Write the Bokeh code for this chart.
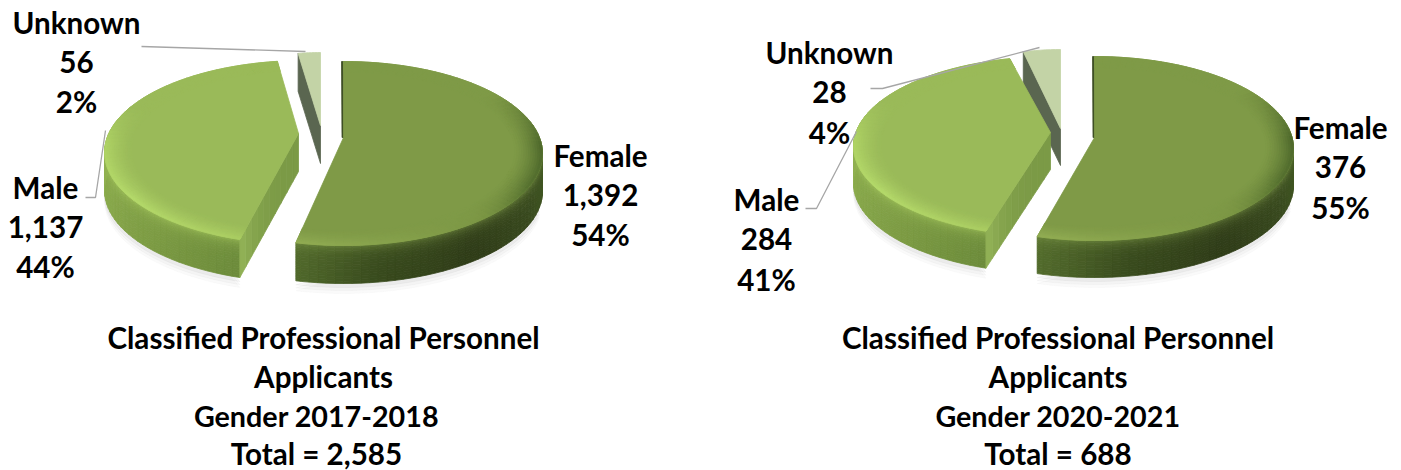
import numpy as np
from bokeh.core.properties import value
from bokeh.embed import file_html
from bokeh.layouts import row
from bokeh.models import ColumnDataSource, Range1d
from bokeh.plotting import figure
from bokeh.resources import INLINE

categories = ["Female", "Male", "Unknown"]
counts_2017 = [1392, 1137, 56]
counts_2020 = [376, 284, 28]
pct_2017 = [54, 44, 2]
pct_2020 = [55, 41, 4]
title_2017 = ["Classified Professional Personnel", "Applicants", "Gender 2017-2018"]
title_2020 = ["Classified Professional Personnel", "Applicants", "Gender 2020-2021"]

FONT = "Lato"
FS = "29.6px"
FS_GENDER = "28.7px"


def hexrgb(h):
    return np.array([int(h[i:i + 2], 16) for i in (1, 3, 5)], float)


def tohex(c):
    c = np.clip(np.round(c), 0, 255).astype(int)
    return "#%02x%02x%02x" % tuple(c)


def ramp(table, t):
    ts = [a for a, _ in table]
    cs = np.array([hexrgb(b) for _, b in table])
    return np.array([np.interp(t, ts, cs[:, i]) for i in range(3)])


FEMALE_WALL = [(60, "#4a6228"), (90, "#435a25"), (112, "#38491e"), (140, "#2f3c18"), (170, "#384a1d"), (200, "#56702e")]
MALE_WALL = [(190, "#678638"), (225, "#7a9942"), (262, "#8aaa4c"), (290, "#98b956"), (320, "#98b956")]
FEMALE_EDGE = [(0, "#7f9a47"), (50, "#7f9a47"), (85, "#4f692c"), (110, "#55702f"), (135, "#7b9644"), (200, "#93ae54")]
MALE_EDGE = [(190, "#a8ca60"), (240, "#b4d96a"), (275, "#aed264"), (300, "#9aba59"), (360, "#9aba59")]
FEMALE_TOP = "#7f9a47"
MALE_TOP = "#9aba59"
UNK_TOP = "#c3d3a6"
UNK_DARK = "#5a6650"
MALE_CUT_A = "#7b9a46"
MALE_CUT_B = "#90b055"
GRID = "#a6a6a6"


def chart(counts, pcts, title_lines, x0, x1, g):
    p = figure(width=x1 - x0, height=470, x_range=Range1d(x0, x1), y_range=Range1d(470, 0),
               output_backend="svg", toolbar_location=None, min_border=0)
    p.axis.visible = False
    p.grid.visible = False
    p.outline_line_color = None
    p.background_fill_color = "#ffffff"
    p.border_fill_color = "#ffffff"

    total = sum(counts)
    f_end = 360 * counts[0] / total
    m_end = f_end + 360 * counts[1] / total

    xs, ys, cols, alphas = [], [], [], []

    def add(x, y, c, a=1.0):
        xs.append(list(x))
        ys.append(list(y))
        cols.append(c)
        alphas.append(a)

    def rim(s, th):
        r = np.radians(th)
        return s["cx"] + s["rx"] * np.sin(r), s["cy"] - s["ry"] * np.cos(r)

    def pt(s, th, f):
        x, y = rim(s, th)
        return s["ax"] + f * (x - s["ax"]), s["ay"] + f * (y - s["ay"])

    def arc(s, t0, t1, n=60):
        return rim(s, np.linspace(t0, t1, n))

    def wall(s, t0, t1, table, hi):
        d = g["depth"]
        vs = np.linspace(0, 1, 17)
        step = 2.5
        for a in np.arange(t0, t1, step):
            b = min(a + step, t1)
            xa, ya = rim(s, a)
            xb, yb = rim(s, b)
            c = ramp(table, (a + b) / 2)
            for v0, v1 in zip(vs[:-1], vs[1:]):
                w = 0.6 * np.exp(-((v0 + v1) / 2) / 0.16)
                col = tohex(c + w * (hexrgb(hi) - c))
                add([xa, xb, xb, xa], [ya + v0 * d, yb + v0 * d, yb + v1 * d, ya + v1 * d], col)

    def surface(s, t0, t1, top, table, f_in=.86):
        x, y = arc(s, t0, t1)
        add([s["ax"], *x], [s["ay"], *y], top)
        base = hexrgb(top)
        n = 12
        fs = np.linspace(f_in, 1, n + 1)
        for a in np.arange(t0, t1, 2.5):
            b = min(a + 2.5, t1)
            c = ramp(table, (a + b) / 2)
            for i in range(n):
                w = ((i + 1) / n) ** 1.5
                xa0, ya0 = pt(s, a, fs[i])
                xb0, yb0 = pt(s, b, fs[i])
                xa1, ya1 = pt(s, a, fs[i + 1])
                xb1, yb1 = pt(s, b, fs[i + 1])
                add([xa0, xb0, xb1, xa1], [ya0, yb0, yb1, ya1], tohex(base + w * (c - base)))

    F, M, U = g["female"], g["male"], g["unknown"]
    d = g["depth"]

    # soft shadow
    for off, a in [(10, .04), (7, .05), (4, .07)]:
        x, y = arc(F, 100, f_end)
        add(x, y + d + off, "#808080", a)
        x, y = arc(M, f_end + g["m0"], 300)
        add(x, y + d + off, "#808080", a)

    # unknown slice
    x, y = arc(U, m_end + g["m1"], 360, 16)
    add([x[0], x[0], U["ax"], U["ax"]], [y[0], y[0] + d, U["ay"] + d, U["ay"]], UNK_DARK)
    add([U["ax"], *x], [U["ay"], *y], UNK_TOP)

    # male slice
    m0, m1 = f_end + g["m0"], m_end + g["m1"]
    wall(M, m0, 300, MALE_WALL, "#a9cc5f")
    sx, sy = rim(M, m0)
    for i in range(10):
        v0, v1 = i / 10, (i + 1) / 10
        top_x = [M["ax"] + v0 * (sx - M["ax"]), M["ax"] + v1 * (sx - M["ax"])]
        top_y = [M["ay"] + v0 * (sy - M["ay"]), M["ay"] + v1 * (sy - M["ay"])]
        c = tohex(hexrgb(MALE_CUT_A) + ((i / 9) ** 3) * (hexrgb(MALE_CUT_B) - hexrgb(MALE_CUT_A)))
        add([top_x[0], top_x[1], top_x[1], top_x[0]], [top_y[0], top_y[1], top_y[1] + d, top_y[0] + d], c)
    surface(M, m0, m1, MALE_TOP, MALE_EDGE)

    # female slice
    wall(F, 70, f_end, FEMALE_WALL, "#7a9644")
    fx, fy = rim(F, 0)
    add([fx - 2, fx, F["ax"] + .5, F["ax"] - 1.5], [fy, fy, F["ay"], F["ay"]], "#3f4f26")
    surface(F, 0, f_end, FEMALE_TOP, FEMALE_EDGE)

    src = ColumnDataSource(dict(xs=xs, ys=ys, c=cols, a=alphas))
    p.patches("xs", "ys", source=src, fill_color="c", line_color="c", fill_alpha="a",
              line_alpha="a", line_width=0.8)

    for lx, ly in g["leaders"]:
        p.line(lx, ly, line_color=GRID, line_width=1.3)

    # data labels and titles
    tx, ty, tt, fs = [], [], [], []
    for i, name in enumerate(categories):
        lx, ly = g["labels"][i]
        for k, s in enumerate([name, f"{counts[i]:,}", f"{pcts[i]}%"]):
            tx.append(lx)
            ty.append(ly + k * g["step"])
            tt.append(s)
            fs.append(FS)
    for k, s in enumerate(title_lines + [f"Total = {total:,}"]):
        tx.append(g["title_x"][k])
        ty.append(g["title_y"][k])
        tt.append(s)
        fs.append(FS_GENDER if k == 2 else FS)
    tsrc = ColumnDataSource(dict(x=tx, y=ty, t=tt, fs=fs))
    p.text("x", "y", text="t", source=tsrc, text_font=value(FONT), text_font_style="bold",
           text_font_size="fs", text_align="center", text_baseline="middle", text_color="#000000")
    return p


g1 = dict(
    female=dict(cx=343, cy=153, rx=199, ry=92, ax=343, ay=137),
    male=dict(cx=304, cy=152, rx=200, ry=92, ax=298, ay=133),
    unknown=dict(cx=320, cy=144, rx=165, ry=92, ax=320, ay=125),
    depth=38, m0=5, m1=0,
    leaders=[([141, 305], [46, 51]), ([85, 95, 105], [197, 197, 130])],
    labels=[(600, 155), (45, 187), (76, 22)], step=39.3,
    title_x=[323, 323, 316, 316], title_y=[337, 376, 415, 453],
)
g2 = dict(
    female=dict(cx=1094, cy=148, rx=199, ry=92, ax=1094, ay=137),
    male=dict(cx=1053, cy=146, rx=200, ry=90, ax=1050, ay=132),
    unknown=dict(cx=1060, cy=141, rx=170, ry=92, ax=1060, ay=128),
    depth=37, m0=3, m1=2,
    leaders=[([870, 882, 1039], [88, 88, 47]), ([805, 816, 856], [208, 208, 131])],
    labels=[(1340, 127), (766, 199), (829, 52)], step=39.8,
    title_x=[1057.5, 1057.5, 1057.5, 1057.5], title_y=[337, 376, 415, 453],
)

left = chart(counts_2017, pct_2017, title_2017, 0, 700, g1)
right = chart(counts_2020, pct_2020, title_2020, 700, 1401, g2)
layout = row(left, right)
open("out.html", "w").write(file_html(layout, INLINE))
